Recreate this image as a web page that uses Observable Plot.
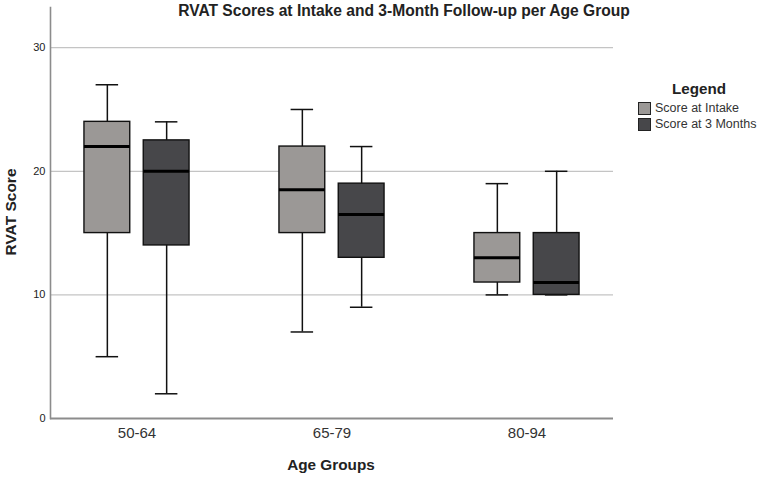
<!DOCTYPE html>
<html>
<head>
<meta charset="utf-8">
<script src="https://cdn.jsdelivr.net/npm/d3@7"></script>
<script src="https://cdn.jsdelivr.net/npm/@observablehq/plot@0.6"></script>
<style>
  html, body { margin: 0; padding: 0; background: #fff; }
  #wrap { position: relative; width: 764px; height: 479px; font-family: "Liberation Sans", Arial, sans-serif; overflow: hidden; }
  #wrap svg { position: absolute; left: 0; top: 0; }
  .abs { position: absolute; white-space: nowrap; color: #222; }
</style>
</head>
<body>
<div id="wrap">
  <div class="abs" id="title" style="left:404px; top:2px; transform: translateX(-50%); font-weight:bold; font-size:15.6px;">RVAT Scores at Intake and 3-Month Follow-up per Age Group</div>
  <div class="abs" id="ylab" style="left:11px; top:212px; font-weight:bold; font-size:15.5px; transform: translate(-50%,-50%) rotate(-90deg);">RVAT Score</div>
  <div class="abs" id="xlab" style="left:331px; top:456px; transform: translateX(-50%); font-weight:bold; font-size:15.3px;">Age Groups</div>
  <div class="abs" id="legend" style="left:638px; top:80px; font-size:12.5px; color:#333;"></div>
</div>
<script>
const groups = ["50-64", "65-79", "80-94"];
const series = ["Score at Intake", "Score at 3 Months"];
const seriesColors = ["#9b9896", "#47474a"];

const intakeLow  = [5, 7, 10];
const intakeQ1   = [15, 15, 11];
const intakeMed  = [22, 18.5, 13];
const intakeQ3   = [24, 22, 15];
const intakeHigh = [27, 25, 19];

const m3Low  = [2, 9, 10];
const m3Q1   = [14, 13, 10];
const m3Med  = [20, 16.5, 11];
const m3Q3   = [22.5, 19, 15];
const m3High = [24, 22, 20];

const yTicks = [0, 10, 20, 30];
const yGrid = [10, 20, 30];

const rows = (low, q1, med, q3, high, s) =>
  groups.map((g, i) => ({group: g, series: s, low: low[i], q1: q1[i], med: med[i], q3: q3[i], high: high[i]}));
const dataIntake = rows(intakeLow, intakeQ1, intakeMed, intakeQ3, intakeHigh, series[0]);
const data3m = rows(m3Low, m3Q1, m3Med, m3Q3, m3High, series[1]);

// layout
const W = 764, H = 479;
const mL = 50, mR = 151, mT = 7, mB = 61;
const pInner = 0.3, pOuter = 0.0935;
const step = (W - mL - mR) / (groups.length - pInner + 2 * pOuter);
const bw = step * (1 - pInner);
const boxW = 45.3, capW = 22, offset = 29.65;
const boxInset = (bw - boxW) / 2;
const capInset = (bw - capW) / 2;

function seriesMarks(data, color, dx) {
  return [
    Plot.ruleX(data, {x: "group", y1: "low", y2: "high", dx, stroke: "#111", strokeWidth: 1.5}),
    Plot.tickY(data, {x: "group", y: "high", dx, insetLeft: capInset, insetRight: capInset, stroke: "#111", strokeWidth: 1.5}),
    Plot.tickY(data, {x: "group", y: "low", dx, insetLeft: capInset, insetRight: capInset, stroke: "#111", strokeWidth: 1.5}),
    Plot.barY(data, {x: "group", y1: "q1", y2: "q3", dx, insetLeft: boxInset, insetRight: boxInset, fill: color, stroke: "#111", strokeWidth: 1.4}),
    Plot.tickY(data, {x: "group", y: "med", dx, insetLeft: boxInset, insetRight: boxInset, stroke: "#000", strokeWidth: 3})
  ];
}

const chart = Plot.plot({
  width: W, height: H,
  marginLeft: mL, marginRight: mR, marginTop: mT, marginBottom: mB,
  style: {fontFamily: '"Liberation Sans", Arial, sans-serif', background: "transparent", color: "#222"},
  x: {domain: groups, type: "band", paddingInner: pInner, paddingOuter: pOuter, label: null},
  y: {domain: [0, 33.25], label: null},
  marks: [
    Plot.gridY(yGrid, {stroke: "#c4c4c4", strokeOpacity: 1, strokeWidth: 1.3}),
    Plot.frame({anchor: "left", stroke: "#8c8c8c", strokeWidth: 1.6}),
    Plot.ruleY([0], {stroke: "#8c8c8c", strokeWidth: 1.8}),
    Plot.axisY(yTicks, {tickSize: 0, tickPadding: 5, fontSize: 11, fill: "#222", label: null}),
    Plot.axisX({tickSize: 0, tickPadding: 9, fontSize: 15, fill: "#333", label: null}),
    ...seriesMarks(dataIntake, seriesColors[0], -offset),
    ...seriesMarks(data3m, seriesColors[1], offset)
  ]
});
document.getElementById("wrap").prepend(chart);

// legend
const lg = document.getElementById("legend");
lg.innerHTML = `<div style="font-weight:bold;font-size:15.2px;color:#222;text-align:center;width:122px;margin-bottom:3px;">Legend</div>` +
  series.map((s, i) => `<div style="display:flex;align-items:center;height:16px;"><span style="display:inline-block;width:11px;height:11px;background:${seriesColors[i]};border:1px solid #222;margin-right:4px;"></span>${s}</div>`).join("");
</script>
</body>
</html>
